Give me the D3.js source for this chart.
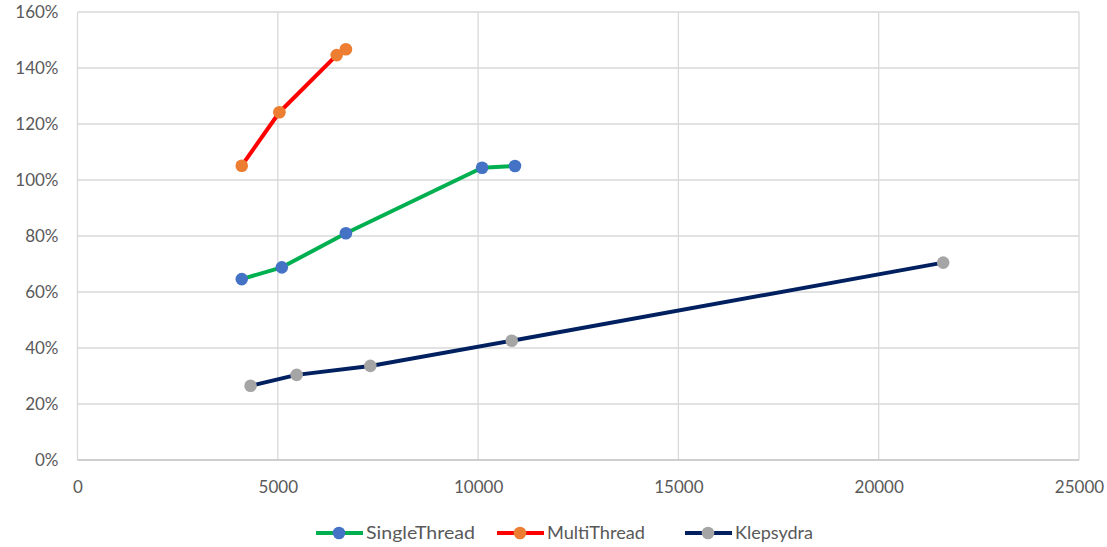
<!DOCTYPE html>
<html>
<head>
<meta charset="utf-8">
<script src="https://cdn.jsdelivr.net/npm/d3@7"></script>
<style>
  html, body { margin: 0; padding: 0; background: #fff; }
  svg { display: block; font-family: Lato, "Open Sans", sans-serif; }
</style>
</head>
<body>
<svg id="chart" width="1107" height="547"></svg>
<script>
// Throughput (x) vs. CPU usage (y) for three execution modes
const xTicks = [0, 5000, 10000, 15000, 20000, 25000];
const yTicks = [0, 20, 40, 60, 80, 100, 120, 140, 160];

const singleX = [4100, 5100, 6700, 10100, 10920];
const singleY = [64.6, 68.8, 81.0, 104.4, 105.0];

const multiX = [4100, 5040, 6470, 6700];
const multiY = [105.1, 124.2, 144.6, 146.7];

const klepX = [4320, 5470, 7310, 10840, 21610];
const klepY = [26.5, 30.4, 33.6, 42.6, 70.5];

const seriesNames = ["SingleThread", "MultiThread", "Klepsydra"];
const lineColors = ["#00b050", "#ff0000", "#002060"];
const markerColors = ["#4472c4", "#ed7d31", "#a5a5a5"];

const series = [
  { name: seriesNames[0], xs: singleX, ys: singleY },
  { name: seriesNames[1], xs: multiX, ys: multiY },
  { name: seriesNames[2], xs: klepX, ys: klepY }
];

const svg = d3.select("#chart");
const plotLeft = 77.5, plotRight = 1079, plotTop = 12, plotBottom = 460;

const x = d3.scaleLinear().domain([0, 25000]).range([plotLeft, plotRight]);
const y = d3.scaleLinear().domain([0, 160]).range([plotBottom, plotTop]);

// Grid
const grid = svg.append("g");
grid.selectAll("line.v").data(xTicks).join("line")
  .attr("class", "v")
  .attr("x1", d => x(d)).attr("x2", d => x(d))
  .attr("y1", plotTop).attr("y2", plotBottom)
  .attr("stroke", "#d9d9d9").attr("stroke-width", 1.3);
grid.selectAll("line.h").data(yTicks).join("line")
  .attr("class", "h")
  .attr("x1", plotLeft).attr("x2", plotRight)
  .attr("y1", d => y(d)).attr("y2", d => y(d))
  .attr("stroke", d => d === 0 ? "#bfbfbf" : "#d9d9d9")
  .attr("stroke-width", 1.3);

// Axes (labels only; grid supplies the lines)
const yAxis = d3.axisLeft(y).tickValues(yTicks).tickSize(0).tickPadding(19)
  .tickFormat(d => d + "%");
svg.append("g").attr("transform", `translate(${plotLeft},0)`).call(yAxis)
  .call(g => g.select(".domain").remove())
  .selectAll("text")
  .attr("font-family", "Lato, sans-serif").attr("font-size", 17).attr("fill", "#595959");

const xAxis = d3.axisBottom(x).tickValues(xTicks).tickSize(0).tickPadding(21)
  .tickFormat(d3.format("d"));
svg.append("g").attr("transform", `translate(0,${plotBottom})`).call(xAxis)
  .call(g => g.select(".domain").remove())
  .selectAll("text")
  .attr("font-family", "Lato, sans-serif").attr("font-size", 17).attr("fill", "#595959");

// Lines and markers
const line = d3.line().x(d => x(d[0])).y(d => y(d[1]));
series.forEach((s, i) => {
  const pts = s.xs.map((v, j) => [v, s.ys[j]]);
  svg.append("path").datum(pts)
    .attr("d", line).attr("fill", "none")
    .attr("stroke", lineColors[i]).attr("stroke-width", 4)
    .attr("stroke-linejoin", "round");
  svg.append("g").selectAll("circle").data(pts).join("circle")
    .attr("cx", d => x(d[0])).attr("cy", d => y(d[1]))
    .attr("r", 6.3).attr("fill", markerColors[i]);
});

// Legend
const legendX = [316, 497, 685];
const legendW = [109, 98, 78];
const ly = 533;
const lg = svg.append("g");
series.forEach((s, i) => {
  const g = lg.append("g").attr("transform", `translate(${legendX[i]},${ly})`);
  g.append("line").attr("x1", 0).attr("x2", 47).attr("y1", 0).attr("y2", 0)
    .attr("stroke", lineColors[i]).attr("stroke-width", 4);
  g.append("circle").attr("cx", 23).attr("cy", 0).attr("r", 6.3).attr("fill", markerColors[i]);
  g.append("text").attr("x", 50).attr("y", 0).attr("dy", "0.35em")
    .attr("font-size", 17).attr("fill", "#595959")
    .attr("textLength", legendW[i]).attr("lengthAdjust", "spacingAndGlyphs")
    .text(s.name);
});
</script>
</body>
</html>
